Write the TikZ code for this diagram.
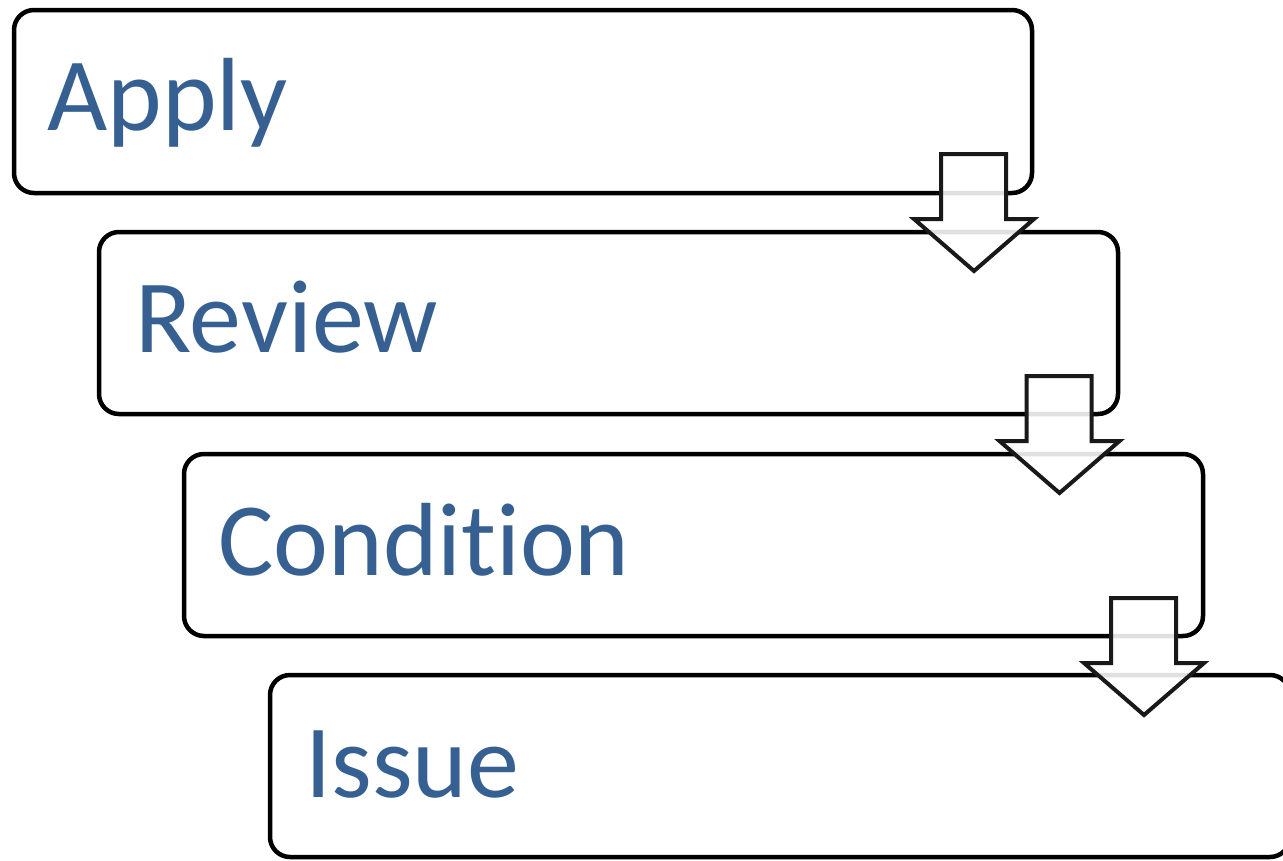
\documentclass[tikz,border=0pt]{standalone}
\usepackage{fontspec}
\setmainfont{Carlito}[Ligatures={NoCommon,NoRequired,NoContextual}]
\definecolor{txtblue}{RGB}{54,96,145}
\tikzset{
  box/.style={draw=black, line width=4.5pt, rounded corners=20pt, fill=white, inner sep=0pt},
  lbl/.style={inner sep=0pt, anchor=base west, text=txtblue, font=\fontsize{104}{110}\selectfont},
  downarrow/.style={draw=black!90, line width=4pt, line join=miter, fill=white, fill opacity=0.88}
}
\begin{document}
\begin{tikzpicture}[x=1pt,y=-1pt]
\useasboundingbox (0,0) rectangle (1283,860);
% boxes (path centres)
\node[box, minimum width=1018pt, minimum height=183pt] (apply) at (523,101.5) {};
\node[box, minimum width=1019pt, minimum height=182pt] (review) at (608.5,323) {};
\node[box, minimum width=1019pt, minimum height=182pt] (condition) at (693.5,545) {};
\node[box, minimum width=1020pt, minimum height=182pt] (issue) at (780,766) {};
% labels
\node[lbl] (tapply) at (47,130) {Apply};
\node[lbl] (treview) at (135,352) {Review};
\node[lbl] (tcondition) at (218,575) {Condition};
\node[lbl] (tissue) at (305,797) {Issue};
% arrows
\foreach \dx/\dy/\nm in {0/0/a1, 85.5/222/a2, 170/444/a3}{
  \begin{scope}[shift={(\dx,\dy)}]
    \draw[downarrow] (941,154) -- (1006,154) -- (1006,219) -- (1034,219)
      -- (974,271) -- (914,219) -- (941,219) -- cycle;
  \end{scope}
}
\end{tikzpicture}
\end{document}
